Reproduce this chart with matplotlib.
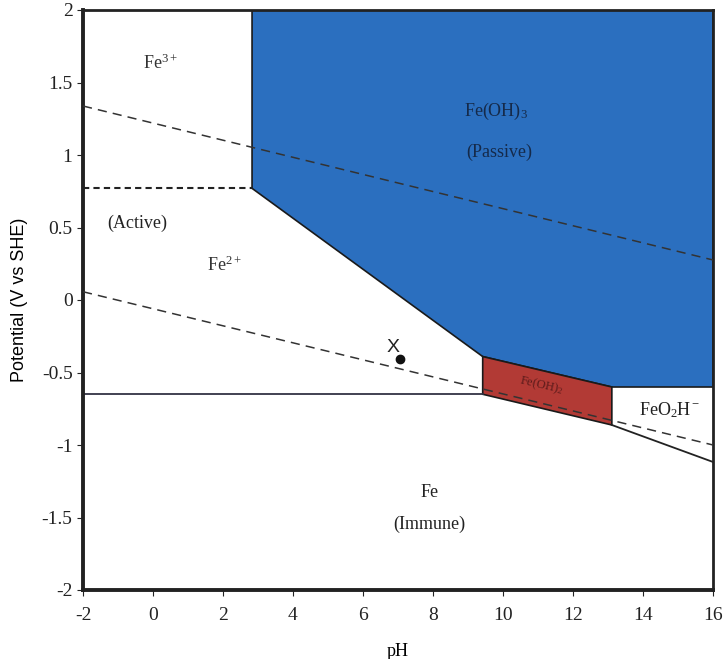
import matplotlib.pyplot as plt

plt.rcParams['font.family'] = 'Liberation Serif'
plt.rcParams['mathtext.fontset'] = 'custom'
plt.rcParams['mathtext.rm'] = 'Liberation Serif'
plt.rcParams['mathtext.it'] = 'Liberation Serif:italic'
plt.rcParams['axes.unicode_minus'] = False

# boundaries (pH, E in V vs SHE)
fe3_fe2_ph = [-2, 2.83]
fe3_fe2_e = [0.77, 0.77]

passive_ph = [2.83, 2.83, 16, 16, 13.11, 9.42, 2.83]
passive_e = [0.77, 2.0, 2.0, -0.6, -0.6, -0.39, 0.77]

feoh2_ph = [9.42, 13.11, 13.11, 9.42]
feoh2_e = [-0.39, -0.6, -0.862, -0.65]

fe2_fe_ph = [-2, 9.42]
fe2_fe_e = [-0.65, -0.65]

feo2h_fe_ph = [13.11, 16]
feo2h_fe_e = [-0.862, -1.117]

o2_ph = [-2, 16]
o2_e = [1.338, 0.276]
h2_ph = [-2, 16]
h2_e = [0.057, -1.0]

point_ph = [7.05]
point_e = [-0.41]

xticks = [-2, 0, 2, 4, 6, 8, 10, 12, 14, 16]
yticks = [-2, -1.5, -1, -0.5, 0, 0.5, 1, 1.5, 2]
ytick_labels = ['-2', '-1.5', '-1', '-0.5', '0', '0.5', '1', '1.5', '2']

fig = plt.figure(figsize=(7.24, 6.59), dpi=100)
ax = fig.add_axes([83/724, 69/659, 630/724, 580/659])

ax.fill(passive_ph, passive_e, color='#2b6fbf', ec='#1a1a1a', lw=1.2, zorder=1)
ax.fill(feoh2_ph, feoh2_e, color='#b23a35', ec='#1a1a1a', lw=1.2, zorder=1)
ax.plot(fe2_fe_ph, fe2_fe_e, color='#333344', lw=1.3, zorder=2)
ax.plot(feo2h_fe_ph, feo2h_fe_e, color='#222222', lw=1.3, zorder=2)
ax.plot(fe3_fe2_ph, fe3_fe2_e, color='#222222', lw=1.5, ls=(0, (3, 2)), zorder=2)
ax.plot(o2_ph, o2_e, color='#333333', lw=1.1, ls=(0, (6, 4)), zorder=3)
ax.plot(h2_ph, h2_e, color='#333333', lw=1.1, ls=(0, (6, 4)), zorder=3)
ax.plot(point_ph, point_e, 'o', color='#111111', ms=6, zorder=4)

ax.text(6.85, -0.33, 'X', family='Liberation Sans', fontsize=14, ha='center', va='center', color='#222222')
ax.text(0.2, 1.63, r'Fe$^{3+}$', fontsize=13, ha='center', va='center', color='#333333')
ax.text(-0.45, 0.53, '(Active)', fontsize=13, ha='center', va='center', color='#222222')
ax.text(2.05, 0.24, r'Fe$^{2+}$', fontsize=13, ha='center', va='center', color='#333333')
ax.text(9.8, 1.3, r'Fe(OH)$_3$', fontsize=13, ha='center', va='center', color='#152a4a')
ax.text(9.9, 1.02, '(Passive)', fontsize=13, ha='center', va='center', color='#152a4a')
ax.text(11.1, -0.59, r'Fe(OH)$_2$', fontsize=9, ha='center', va='center', color='#5a1a1a', rotation=-13)
ax.text(14.75, -0.76, r'FeO$_2$H$^-$', fontsize=13, ha='center', va='center', color='#222222')
ax.text(7.9, -1.33, 'Fe', fontsize=13, ha='center', va='center', color='#222222')
ax.text(7.9, -1.55, '(Immune)', fontsize=13, ha='center', va='center', color='#222222')

ax.set_xlim(-2, 16)
ax.set_ylim(-2, 2)
ax.set_xticks(xticks)
ax.set_yticks(yticks)
ax.set_yticklabels(ytick_labels)
ax.tick_params(labelsize=14, length=4, colors='#222222')
ax.tick_params(axis='x', pad=8)
ax.set_xlabel('pH', fontsize=13, labelpad=14)
ax.set_ylabel('Potential (V vs SHE)', family='Liberation Sans', fontsize=13, labelpad=10)
for side in ['left', 'bottom']:
    ax.spines[side].set_linewidth(2.8)
for side in ['top', 'right']:
    ax.spines[side].set_linewidth(2.0)
for s in ax.spines.values():
    s.set_color('#222222')

fig.savefig('out.png', dpi=100)
